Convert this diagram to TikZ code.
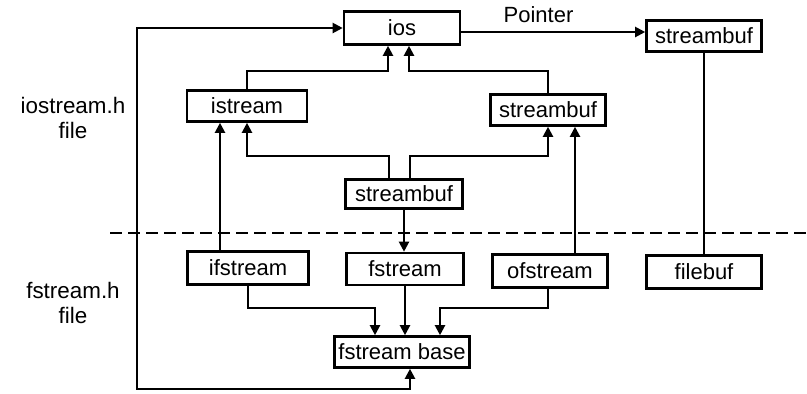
\documentclass[tikz,border=0pt]{standalone}
\usepackage{fontspec}
\setmainfont{Liberation Sans}
\usetikzlibrary{arrows.meta,calc}
\begin{document}
\begin{tikzpicture}[x=0.5pt,y=-0.5pt,
  box/.style={draw,line width=1.3pt,inner sep=0pt,minimum height=15.5pt,font=\fontsize{11}{12}\selectfont},
  conn/.style={line width=1.05pt},
  tip/.tip={Triangle[length=5pt,width=5pt]},
  arr/.style={conn,-tip},
  lab/.style={align=center,font=\fontsize{11.2}{12.5}\selectfont},
  sep/.style={line width=1.1pt,dash pattern=on 6pt off 3pt}]
\useasboundingbox (0,0) rectangle (807,393);
% nodes
\node[box,minimum width=58pt,minimum height=16.5pt] (ios) at (402,28) {ios};
\node[box,minimum width=57.5pt] (sbtop) at (704,36) {streambuf};
\node[box,minimum width=60pt] (istream) at (247,106) {istream};
\node[box,minimum width=57.5pt] (sbmid) at (548,110) {streambuf};
\node[box,minimum width=58.5pt,minimum height=14.5pt] (sbc) at (404,194) {streambuf};
\node[box,minimum width=60.5pt,minimum height=16.5pt] (ifstream) at (248,268) {ifstream};
\node[box,minimum width=58.5pt,minimum height=16pt] (fstream) at (405,269) {fstream};
\node[box,minimum width=57.5pt,minimum height=16.5pt] (ofstream) at (550,271) {ofstream};
\node[box,minimum width=57.5pt,minimum height=16.5pt] (filebuf) at (704,272) {filebuf};
\node[box,minimum width=67.5pt] (fbase) at (402,352) {fstream base};
\node[lab] (iolab) at (73,118) {iostream.h\\file};
\node[lab] (fslab) at (73,303) {fstream.h\\file};
% helper coordinates
\coordinate (yA) at (0,71);
\coordinate (yB) at (0,156);
\coordinate (yC) at (0,308);
\coordinate (iosL) at ($(ios.south)+(-14,0)$);
\coordinate (iosR) at ($(ios.south)+(7,0)$);
\coordinate (sbcL) at ($(sbc.north)+(-15,0)$);
\coordinate (sbcR) at ($(sbc.north)+(6,0)$);
\coordinate (ifsT) at ($(ifstream.north)+(-28,0)$);
\coordinate (ofsT) at ($(ofstream.north)+(25,0)$);
\coordinate (ofsB) at ($(ofstream.south)+(-2,0)$);
\coordinate (fbL) at ($(fbase.north)+(-27,0)$);
\coordinate (fbR) at ($(fbase.north)+(38,0)$);
\coordinate (fbB) at ($(fbase.south)+(8,0)$);
\coordinate (loopBL) at (137,389);
\coordinate (ptr) at (0,32);
% connectors
\draw[arr] (istream.north) |- (yA -| iosL) -- (iosL);
\draw[arr] (sbmid.north) |- (yA -| iosR) -- (iosR);
\draw[arr] (sbcL) |- (yB -| istream.south) -- (istream.south);
\draw[arr] (sbcR) |- (yB -| sbmid.south) -- (sbmid.south);
\draw[arr] (ifsT) -- (ifsT |- istream.south);
\draw[arr] (ofsT) -- (ofsT |- sbmid.south);
\draw[arr] (sbc.south) -- (sbc.south |- fstream.north);
\draw[conn] (sbtop.south) -- (filebuf.north);
\draw[arr] (ifstream.south) |- (yC -| fbL) -- (fbL);
\draw[arr] (fstream.south) -- (fstream.south |- fbase.north);
\draw[arr] (ofsB) |- (yC -| fbR) -- (fbR);
\draw[conn,tip-tip] (fbB) |- (loopBL) |- (ios.west);
\draw[arr] (ios.east |- ptr) -- node[pos=0.42,above=1pt,font=\fontsize{11}{12}\selectfont] (ptrlab) {Pointer} (sbtop.west |- ptr);
% separator
\coordinate (sepL) at (110,233);
\coordinate (sepR) at (807,233);
\draw[sep] (sepL) -- (sepR);
\end{tikzpicture}
\end{document}
